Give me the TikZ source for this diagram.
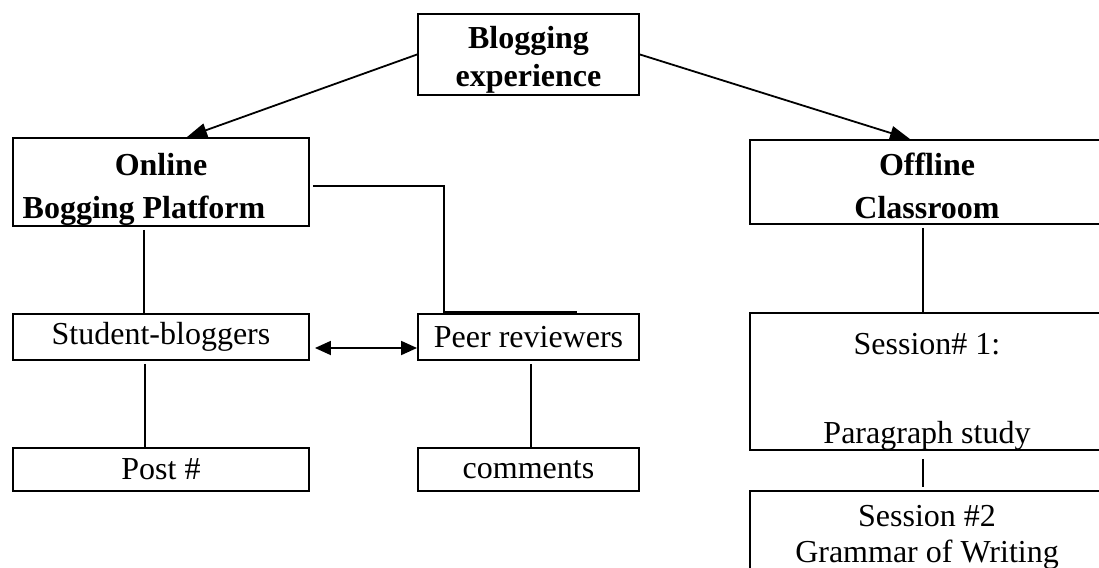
\documentclass[tikz,border=0pt]{standalone}
\usepackage{fontspec}
\setmainfont{Liberation Serif}
\usetikzlibrary{arrows.meta}
\newcommand{\toplift}[1]{\rule{0pt}{#1}}
\begin{document}
\begin{tikzpicture}[x=1pt, y=-1pt, font=\fontsize{32}{36}\selectfont,
        box/.style={draw, line width=1.9pt, inner sep=0pt, align=center},
        headbox/.style={box, font=\fontsize{32}{43}\selectfont\bfseries},
        link/.style={line width=1.4pt},
        tip/.style={line width=1.8pt, -{Triangle[length=20pt,width=14pt]}},
        twotip/.style={line width=1.8pt, {Triangle[length=16pt,width=14pt]}-{Triangle[length=16pt,width=14pt]}}]
    \useasboundingbox (0,0) rectangle (1099,567);
    % top of the tree
    \node[headbox, minimum width=221, minimum height=81, font=\fontsize{32}{38}\selectfont\bfseries] (blog) at (528.5,54.5) {\toplift{32pt}Blogging\\experience};
    \node[headbox, minimum width=296, minimum height=84] (online) at (161,182) {\toplift{38pt}Online\\Bogging Platform\hspace*{34pt}};
    \node[headbox, minimum width=354, minimum height=84] (offline) at (927,182) {\toplift{31pt}Offline\\Classroom};
    % online side
    \node[box, minimum width=296, minimum height=46] (student) at (161,337) {Student-bloggers};
    \node[box, minimum width=221, minimum height=46] (peer) at (528.5,337) {Peer reviewers};
    \node[box, minimum width=296, minimum height=43] (post) at (161,469.5) {Post \#};
    \node[box, minimum width=221, minimum height=43] (comments) at (528.5,469.5) {comments};
    % offline side
    \node[box, minimum width=354, minimum height=135] (sessionA) at (927,381.5) {\toplift{41pt}Session\# 1:\\[53pt]Paragraph study};
    \node[box, minimum width=354, minimum height=92] (sessionB) at (927,537) {Session \#2\\Grammar of Writing};

    \draw[tip] (blog.west) -- ([xshift=26]online.north);
    \draw[tip] (blog.east) -- ([xshift=-17]offline.north);
    \draw[link] ([xshift=3,yshift=-4]online.east) -| ([xshift=27]peer.north west);
    \draw[line width=3pt] ([xshift=27,yshift=1]peer.north west) -- ([xshift=160,yshift=1]peer.north west);
    \draw[twotip] ([xshift=5,yshift=-11]student.east) -- ([yshift=-11]peer.west);
    \draw[link] ([xshift=-17,yshift=-3]online.south) -- ([xshift=-17]student.north);
    \draw[link] ([xshift=-16,yshift=-3]student.south) -- ([xshift=-16]post.north);
    \draw[link] ([xshift=2.5,yshift=-3]peer.south) -- ([xshift=2.5]comments.north);
    \draw[link] ([xshift=-4,yshift=-3]offline.south) -- ([xshift=-4]sessionA.north);
    \draw[link] ([xshift=-4,yshift=-8]sessionA.south) -- ([xshift=-4,yshift=3]sessionB.north);
\end{tikzpicture}
\end{document}
